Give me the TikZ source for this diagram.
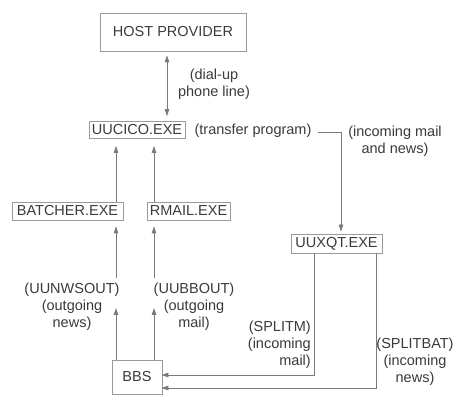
\documentclass[tikz,border=0pt]{standalone}
\usepackage{fontspec}
\setmainfont{Liberation Sans}
\usetikzlibrary{arrows.meta}
\definecolor{txt}{HTML}{3A3A3A}
\definecolor{ln}{HTML}{7A7A7A}
\definecolor{bx}{HTML}{9A9A9A}
\tikzset{
  prog/.style={draw=bx, line width=0.8pt, inner sep=0pt, text=txt, font=\fontsize{14.5}{17}\selectfont},
  lbl/.style={text=txt, inner sep=2pt, font=\fontsize{14.5}{17}\selectfont},
  conn/.style={draw=ln, line width=0.8pt},
  arr/.style={conn, -{Triangle[length=7pt,width=4.5pt]}},
  dbl/.style={conn, {Triangle[length=7pt,width=4.5pt]}-{Triangle[length=7pt,width=4.5pt]}}
}
\begin{document}
\begin{tikzpicture}[x=1pt,y=-1pt]
\useasboundingbox (0,0) rectangle (459,396);
% program boxes
\node[prog, minimum width=146pt, minimum height=38pt] (host) at (173,32) {HOST PROVIDER};
\node[prog, minimum width=96pt, minimum height=17pt] (uucico) at (137,130) {UUCICO.EXE};
\node[prog, minimum width=111pt, minimum height=18pt] (batcher) at (67.5,211) {BATCHER.EXE};
\node[prog, minimum width=83pt, minimum height=18pt] (rmail) at (188.5,211) {RMAIL.EXE};
\node[prog, minimum width=91pt, minimum height=19pt] (uuxqt) at (336.5,243.5) {UUXQT.EXE};
\node[prog, minimum width=50pt, minimum height=34pt] (bbs) at (137,377) {BBS};
% labels
\node[lbl, align=center] (dial) at (214,84) {(dial-up\\phone line)};
\node[lbl] (transfer) at (253,131) {(transfer program)};
\node[lbl, align=center] (incoming) at (395,141) {(incoming mail\\and news)};
\node[lbl, align=center] (uunwsout) at (72,307) {(UUNWSOUT)\\(outgoing\\news)};
\node[lbl, align=center] (uubbout) at (194,307) {(UUBBOUT)\\(outgoing\\mail)};
\node[lbl, align=right, anchor=east] (splitm) at (313,345) {(SPLITM)\\(incoming\\mail)};
\node[lbl, align=center] (splitbat) at (415,362) {(SPLITBAT)\\(incoming\\news)};
% helper coordinates
\coordinate (cx) at (167,0);
\coordinate (c1) at (116,0);
\coordinate (c2) at (154,0);
\coordinate (t1) at (116,308);
\coordinate (t2) at (154,308);
\coordinate (u1) at (116,278);
\coordinate (u2) at (154,278);
\coordinate (tj) at (341,132);
\coordinate (s1) at (314,0);
\coordinate (s2) at (376,0);
\coordinate (y1) at (0,375);
\coordinate (y2) at (0,388);
% connectors
\draw[dbl, shorten <=4pt, shorten >=5pt] (cx |- host.south) -- (cx |- uucico.north);
\draw[arr, shorten >=7pt] (c1 |- batcher.north) -- (c1 |- uucico.south);
\draw[arr, shorten >=7pt] (c2 |- rmail.north) -- (c2 |- uucico.south);
\draw[arr, shorten >=6pt] (u1) -- (c1 |- batcher.south);
\draw[arr, shorten >=6pt] (u2) -- (c2 |- rmail.south);
\draw[arr] (c1 |- bbs.north) -- (t1);
\draw[arr] (c2 |- bbs.north) -- (t2);
\draw[arr, shorten <=4pt, shorten >=2pt] (transfer.east |- tj) -| (tj |- uuxqt.north);
\draw[arr, shorten >=-1pt] (s1 |- uuxqt.south) |- (bbs.east |- y1);
\draw[arr, shorten >=-1pt] (s2 |- uuxqt.south) |- (bbs.east |- y2);
\end{tikzpicture}
\end{document}
